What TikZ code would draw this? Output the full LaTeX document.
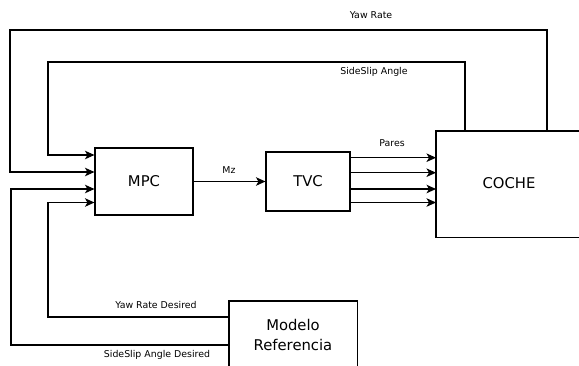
\documentclass[tikz,border=0pt]{standalone}
\usepackage{fontspec}
\setmainfont{DejaVu Sans}
\usetikzlibrary{arrows.meta}
\begin{document}
\begin{tikzpicture}[x=1pt,y=-1pt,
  line width=1.1pt,
  blk/.style={draw, line width=1.1pt, inner sep=0pt, font=\fontsize{14.8}{20}\selectfont},
  area/.style={inner sep=0pt},
  lbl/.style={font=\fontsize{9.4}{11}\selectfont, inner sep=0pt},
  arr/.style={-{Stealth[length=9.5pt,width=8.5pt,inset=2.5pt]}}]
\useasboundingbox (0,0) rectangle (579,365);
\clip (0,0) rectangle (579,365);
\fill[white] (0,0) rectangle (579,365);
% blocks
\node[blk, minimum width=98pt, minimum height=67pt] (mpc) at (144,181.5) {MPC};
\node[blk, minimum width=84pt, minimum height=59pt] (tvc) at (308,181.5) {TVC};
\node[area, minimum width=160pt, minimum height=105pt, anchor=north west] (coche) at (436,131) {};
\draw (coche.north east) -- (coche.north west) -- (coche.south west) -- (coche.south east);
\node[font=\fontsize{14.8}{20}\selectfont, inner sep=0pt] (cochetxt) at (509,183) {COCHE};
\node[area, minimum width=127pt, minimum height=90pt, anchor=north west] (modelo) at (229,301) {};
\draw (modelo.south west) -- (modelo.north west) -- (modelo.north east) -- (modelo.south east);
\node[font=\fontsize{14.8}{20}\selectfont, align=center, inner sep=0pt] (modelotxt) at (293,335) {Modelo\\Referencia};
% MPC -> TVC
\draw[arr] (mpc.east) -- (tvc.west);
\node[lbl] (mz) at (229,170) {Mz};
% TVC -> COCHE
\draw[arr] (tvc.east |- 0,157.7) -- (coche.west |- 0,157.7);
\draw[arr] (tvc.east |- 0,172.7) -- (coche.west |- 0,172.7);
\draw[arr] (tvc.east |- 0,189) -- (coche.west |- 0,189);
\draw[arr] (tvc.east |- 0,202.5) -- (coche.west |- 0,202.5);
\node[lbl] (pares) at (392,143) {Pares};
% feedback loops
\draw[arr] (coche.north -| 547,0) |- (10,30) |- (mpc.west |- 0,172);
\node[lbl] (yawrate) at (371,15) {Yaw Rate};
\draw[arr] (coche.north -| 465,0) |- (48,62) |- (mpc.west |- 0,155);
\node[lbl] (sideslip) at (374,72) {SideSlip Angle};
% reference model
\draw[arr] (modelo.west |- 0,317) -- (48,317) |- (mpc.west |- 0,202.5);
\node[lbl] (yrd) at (156,305) {Yaw Rate Desired};
\draw[arr] (modelo.west |- 0,345) -- (11,345) |- (mpc.west |- 0,189);
\node[lbl] (ssd) at (157,355) {SideSlip Angle Desired};
\end{tikzpicture}
\end{document}
